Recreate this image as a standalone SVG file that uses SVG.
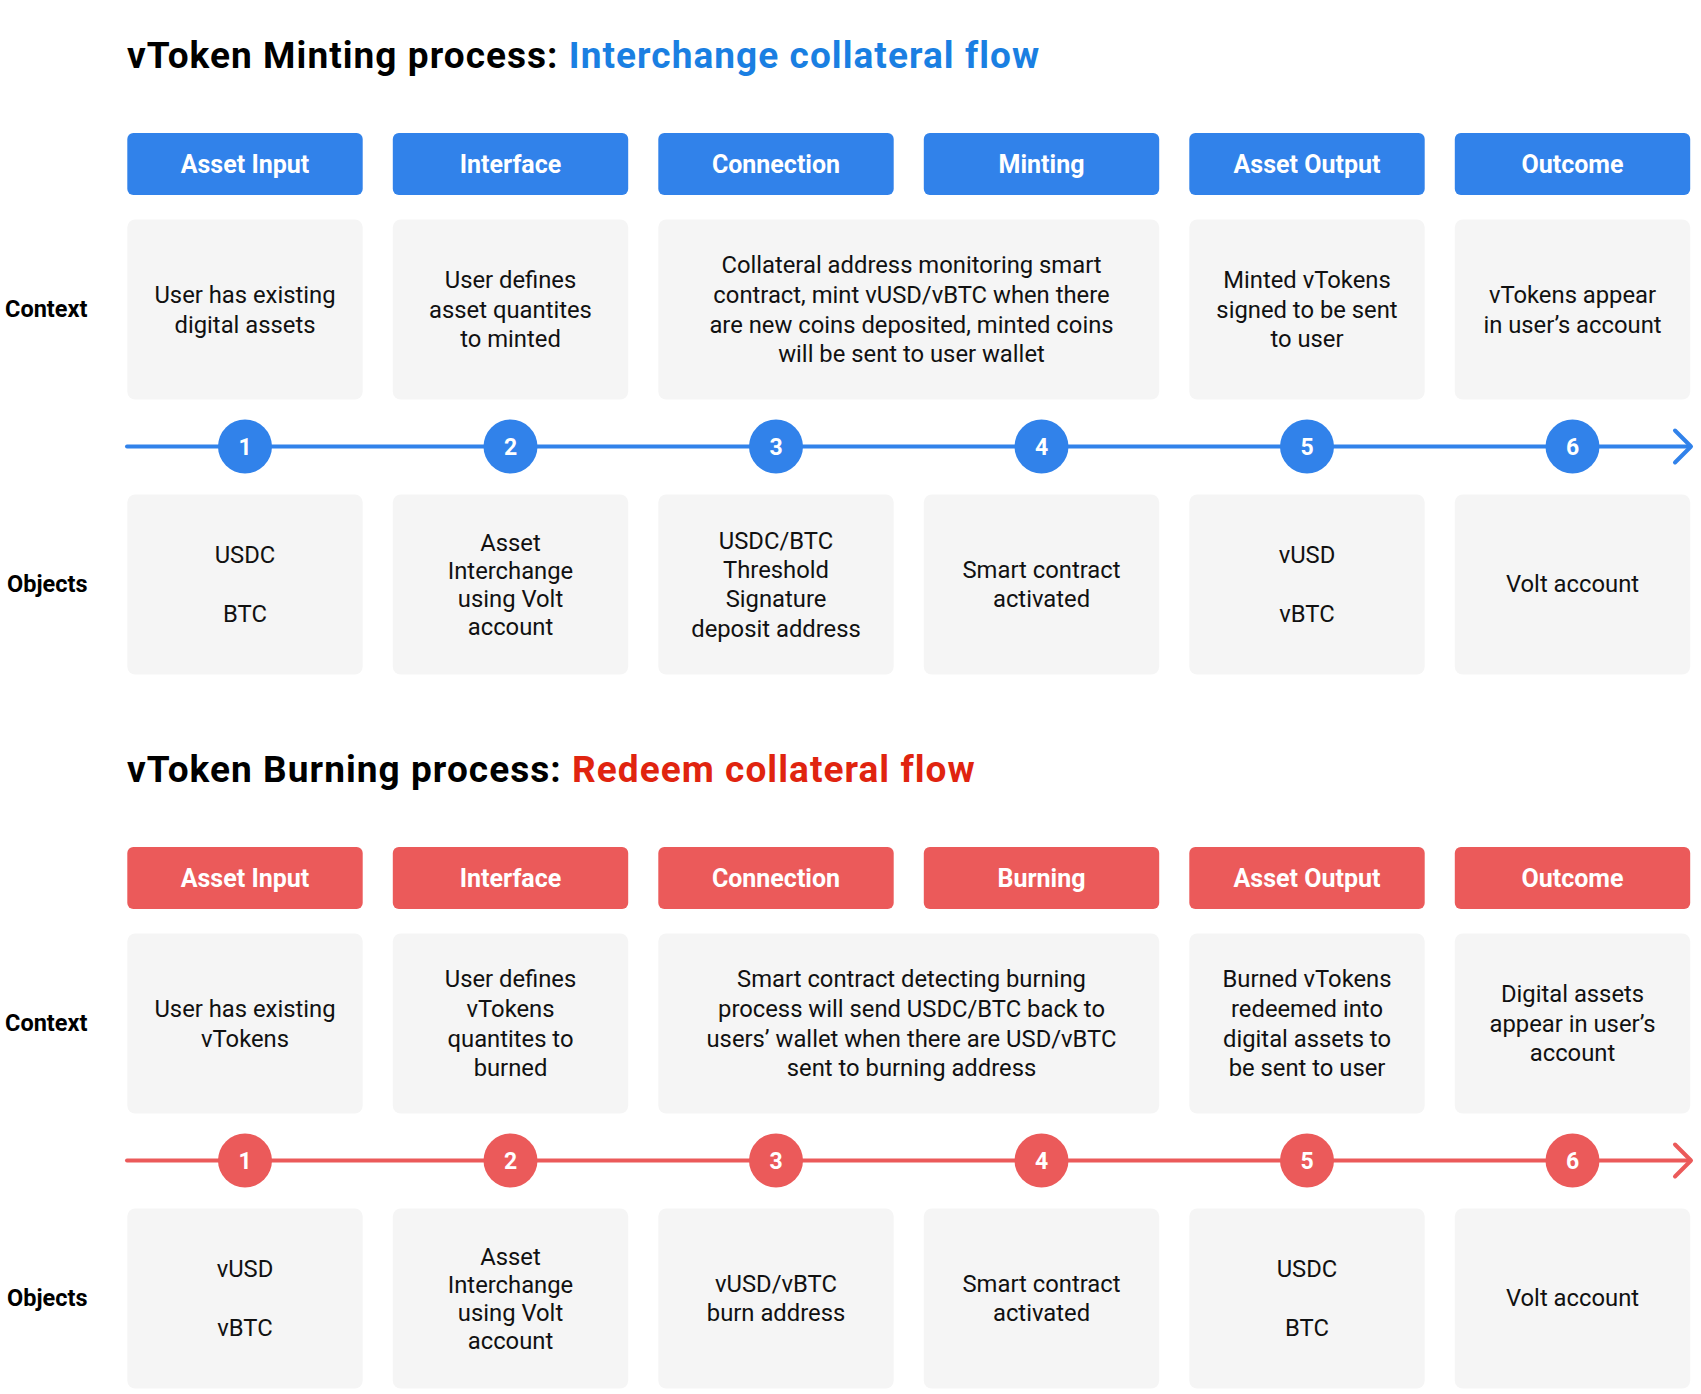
<svg xmlns="http://www.w3.org/2000/svg" width="1701" height="1394" viewBox="0 0 1701 1394">
<style>
text{font-family:Roboto,"Liberation Sans",sans-serif}
.title{font-size:37px;font-weight:700;fill:#000;letter-spacing:1.05px}
.t-blue{fill:#1a7fe2}
.t-red{fill:#e0240f}
.row{font-size:23.5px;font-weight:700;fill:#000}
.hb{fill:#3182ea}
.hr{fill:#eb5a5a}
.ht{font-size:25px;font-weight:700;fill:#fff;text-anchor:middle}
.card{fill:#f5f5f5}
.ct{font-size:23.8px;fill:#111;text-anchor:middle}
.num{font-size:23px;font-weight:700;fill:#fff;text-anchor:middle}
.lb{stroke:#3182ea;stroke-width:4;fill:none;stroke-linecap:round;stroke-linejoin:round}
.lr{stroke:#eb5a5a;stroke-width:4;fill:none;stroke-linecap:round;stroke-linejoin:round}
</style>
<rect width="1701" height="1394" fill="#fff"/>

<!-- ===== Section 1: Minting ===== -->
<g id="section-minting">
<text id="title-minting" class="title" x="127" y="68">vToken Minting process: <tspan class="t-blue">Interchange collateral flow</tspan></text>
<text id="label-context-1" class="row" x="5" y="317">Context</text>
<text id="label-objects-1" class="row" x="7" y="592">Objects</text>

<g id="connectors-minting">
<line class="lb" x1="127" y1="446.5" x2="1690" y2="446.5"/>
<polyline class="lb" points="1675,430.5 1691,446.5 1675,462.5"/>
</g>

<g id="m-head-1"><rect class="hb" x="127.3" y="133" width="235.4" height="62" rx="6"/><text class="ht" x="245" y="172.7">Asset Input</text></g>
<g id="m-head-2"><rect class="hb" x="392.8" y="133" width="235.4" height="62" rx="6"/><text class="ht" x="510.5" y="172.7">Interface</text></g>
<g id="m-head-3"><rect class="hb" x="658.3" y="133" width="235.4" height="62" rx="6"/><text class="ht" x="776" y="172.7">Connection</text></g>
<g id="m-head-4"><rect class="hb" x="923.8" y="133" width="235.4" height="62" rx="6"/><text class="ht" x="1041.5" y="172.7">Minting</text></g>
<g id="m-head-5"><rect class="hb" x="1189.3" y="133" width="235.4" height="62" rx="6"/><text class="ht" x="1307" y="172.7">Asset Output</text></g>
<g id="m-head-6"><rect class="hb" x="1454.8" y="133" width="235.4" height="62" rx="6"/><text class="ht" x="1572.5" y="172.7">Outcome</text></g>

<g id="m-ctx-1"><rect class="card" x="127.3" y="219.5" width="235.4" height="180" rx="8"/>
<text class="ct" x="245" y="302.9">User has existing</text><text class="ct" x="245" y="332.6">digital assets</text></g>
<g id="m-ctx-2"><rect class="card" x="392.8" y="219.5" width="235.4" height="180" rx="8"/>
<text class="ct" x="510.5" y="288">User defines</text><text class="ct" x="510.5" y="317.7">asset quantites</text><text class="ct" x="510.5" y="347.4">to minted</text></g>
<g id="m-ctx-34"><rect class="card" x="658.3" y="219.5" width="500.9" height="180" rx="8"/>
<text class="ct" x="911.5" y="273.2">Collateral address monitoring smart</text><text class="ct" x="911.5" y="302.9">contract, mint vUSD/vBTC when there</text><text class="ct" x="911.5" y="332.6">are new coins deposited, minted coins</text><text class="ct" x="911.5" y="362.3">will be sent to user wallet</text></g>
<g id="m-ctx-5"><rect class="card" x="1189.3" y="219.5" width="235.4" height="180" rx="8"/>
<text class="ct" x="1307" y="288">Minted vTokens</text><text class="ct" x="1307" y="317.7">signed to be sent</text><text class="ct" x="1307" y="347.4">to user</text></g>
<g id="m-ctx-6"><rect class="card" x="1454.8" y="219.5" width="235.4" height="180" rx="8"/>
<text class="ct" x="1572.5" y="302.9">vTokens appear</text><text class="ct" x="1572.5" y="332.6">in user’s account</text></g>

<g id="m-step-1"><circle class="hb" cx="245" cy="446.5" r="27"/><text class="num" x="245" y="454.7">1</text></g>
<g id="m-step-2"><circle class="hb" cx="510.5" cy="446.5" r="27"/><text class="num" x="510.5" y="454.7">2</text></g>
<g id="m-step-3"><circle class="hb" cx="776" cy="446.5" r="27"/><text class="num" x="776" y="454.7">3</text></g>
<g id="m-step-4"><circle class="hb" cx="1041.5" cy="446.5" r="27"/><text class="num" x="1041.5" y="454.7">4</text></g>
<g id="m-step-5"><circle class="hb" cx="1307" cy="446.5" r="27"/><text class="num" x="1307" y="454.7">5</text></g>
<g id="m-step-6"><circle class="hb" cx="1572.5" cy="446.5" r="27"/><text class="num" x="1572.5" y="454.7">6</text></g>

<g id="m-obj-1"><rect class="card" x="127.3" y="494.5" width="235.4" height="180" rx="8"/>
<text class="ct" x="245" y="562.7">USDC</text><text class="ct" x="245" y="622.4">BTC</text></g>
<g id="m-obj-2"><rect class="card" x="392.8" y="494.5" width="235.4" height="180" rx="8"/>
<text class="ct" x="510.5" y="550.7">Asset</text><text class="ct" x="510.5" y="578.7">Interchange</text><text class="ct" x="510.5" y="606.7">using Volt</text><text class="ct" x="510.5" y="634.7">account</text></g>
<g id="m-obj-3"><rect class="card" x="658.3" y="494.5" width="235.4" height="180" rx="8"/>
<text class="ct" x="776" y="548.7">USDC/BTC</text><text class="ct" x="776" y="578">Threshold</text><text class="ct" x="776" y="607.3">Signature</text><text class="ct" x="776" y="636.6">deposit address</text></g>
<g id="m-obj-4"><rect class="card" x="923.8" y="494.5" width="235.4" height="180" rx="8"/>
<text class="ct" x="1041.5" y="577.9">Smart contract</text><text class="ct" x="1041.5" y="607.2">activated</text></g>
<g id="m-obj-5"><rect class="card" x="1189.3" y="494.5" width="235.4" height="180" rx="8"/>
<text class="ct" x="1307" y="562.7">vUSD</text><text class="ct" x="1307" y="622.4">vBTC</text></g>
<g id="m-obj-6"><rect class="card" x="1454.8" y="494.5" width="235.4" height="180" rx="8"/>
<text class="ct" x="1572.5" y="592">Volt account</text></g>
</g>

<!-- ===== Section 2: Burning ===== -->
<g id="section-burning" transform="translate(0,714)">
<text id="title-burning" class="title" x="127" y="68">vToken Burning process: <tspan class="t-red">Redeem collateral flow</tspan></text>
<text id="label-context-2" class="row" x="5" y="317">Context</text>
<text id="label-objects-2" class="row" x="7" y="592">Objects</text>

<g id="connectors-burning">
<line class="lr" x1="127" y1="446.5" x2="1690" y2="446.5"/>
<polyline class="lr" points="1675,430.5 1691,446.5 1675,462.5"/>
</g>

<g id="b-head-1"><rect class="hr" x="127.3" y="133" width="235.4" height="62" rx="6"/><text class="ht" x="245" y="172.7">Asset Input</text></g>
<g id="b-head-2"><rect class="hr" x="392.8" y="133" width="235.4" height="62" rx="6"/><text class="ht" x="510.5" y="172.7">Interface</text></g>
<g id="b-head-3"><rect class="hr" x="658.3" y="133" width="235.4" height="62" rx="6"/><text class="ht" x="776" y="172.7">Connection</text></g>
<g id="b-head-4"><rect class="hr" x="923.8" y="133" width="235.4" height="62" rx="6"/><text class="ht" x="1041.5" y="172.7">Burning</text></g>
<g id="b-head-5"><rect class="hr" x="1189.3" y="133" width="235.4" height="62" rx="6"/><text class="ht" x="1307" y="172.7">Asset Output</text></g>
<g id="b-head-6"><rect class="hr" x="1454.8" y="133" width="235.4" height="62" rx="6"/><text class="ht" x="1572.5" y="172.7">Outcome</text></g>

<g id="b-ctx-1"><rect class="card" x="127.3" y="219.5" width="235.4" height="180" rx="8"/>
<text class="ct" x="245" y="302.9">User has existing</text><text class="ct" x="245" y="332.6">vTokens</text></g>
<g id="b-ctx-2"><rect class="card" x="392.8" y="219.5" width="235.4" height="180" rx="8"/>
<text class="ct" x="510.5" y="273.2">User defines</text><text class="ct" x="510.5" y="302.9">vTokens</text><text class="ct" x="510.5" y="332.6">quantites to</text><text class="ct" x="510.5" y="362.3">burned</text></g>
<g id="b-ctx-34"><rect class="card" x="658.3" y="219.5" width="500.9" height="180" rx="8"/>
<text class="ct" x="911.5" y="273.2">Smart contract detecting burning</text><text class="ct" x="911.5" y="302.9">process will send USDC/BTC back to</text><text class="ct" x="911.5" y="332.6">users’ wallet when there are USD/vBTC</text><text class="ct" x="911.5" y="362.3">sent to burning address</text></g>
<g id="b-ctx-5"><rect class="card" x="1189.3" y="219.5" width="235.4" height="180" rx="8"/>
<text class="ct" x="1307" y="273.2">Burned vTokens</text><text class="ct" x="1307" y="302.9">redeemed into</text><text class="ct" x="1307" y="332.6">digital assets to</text><text class="ct" x="1307" y="362.3">be sent to user</text></g>
<g id="b-ctx-6"><rect class="card" x="1454.8" y="219.5" width="235.4" height="180" rx="8"/>
<text class="ct" x="1572.5" y="288">Digital assets</text><text class="ct" x="1572.5" y="317.7">appear in user’s</text><text class="ct" x="1572.5" y="347.4">account</text></g>

<g id="b-step-1"><circle class="hr" cx="245" cy="446.5" r="27"/><text class="num" x="245" y="454.7">1</text></g>
<g id="b-step-2"><circle class="hr" cx="510.5" cy="446.5" r="27"/><text class="num" x="510.5" y="454.7">2</text></g>
<g id="b-step-3"><circle class="hr" cx="776" cy="446.5" r="27"/><text class="num" x="776" y="454.7">3</text></g>
<g id="b-step-4"><circle class="hr" cx="1041.5" cy="446.5" r="27"/><text class="num" x="1041.5" y="454.7">4</text></g>
<g id="b-step-5"><circle class="hr" cx="1307" cy="446.5" r="27"/><text class="num" x="1307" y="454.7">5</text></g>
<g id="b-step-6"><circle class="hr" cx="1572.5" cy="446.5" r="27"/><text class="num" x="1572.5" y="454.7">6</text></g>

<g id="b-obj-1"><rect class="card" x="127.3" y="494.5" width="235.4" height="180" rx="8"/>
<text class="ct" x="245" y="562.7">vUSD</text><text class="ct" x="245" y="622.4">vBTC</text></g>
<g id="b-obj-2"><rect class="card" x="392.8" y="494.5" width="235.4" height="180" rx="8"/>
<text class="ct" x="510.5" y="550.7">Asset</text><text class="ct" x="510.5" y="578.7">Interchange</text><text class="ct" x="510.5" y="606.7">using Volt</text><text class="ct" x="510.5" y="634.7">account</text></g>
<g id="b-obj-3"><rect class="card" x="658.3" y="494.5" width="235.4" height="180" rx="8"/>
<text class="ct" x="776" y="577.9">vUSD/vBTC</text><text class="ct" x="776" y="607.2">burn address</text></g>
<g id="b-obj-4"><rect class="card" x="923.8" y="494.5" width="235.4" height="180" rx="8"/>
<text class="ct" x="1041.5" y="577.9">Smart contract</text><text class="ct" x="1041.5" y="607.2">activated</text></g>
<g id="b-obj-5"><rect class="card" x="1189.3" y="494.5" width="235.4" height="180" rx="8"/>
<text class="ct" x="1307" y="562.7">USDC</text><text class="ct" x="1307" y="622.4">BTC</text></g>
<g id="b-obj-6"><rect class="card" x="1454.8" y="494.5" width="235.4" height="180" rx="8"/>
<text class="ct" x="1572.5" y="592">Volt account</text></g>
</g>
</svg>
